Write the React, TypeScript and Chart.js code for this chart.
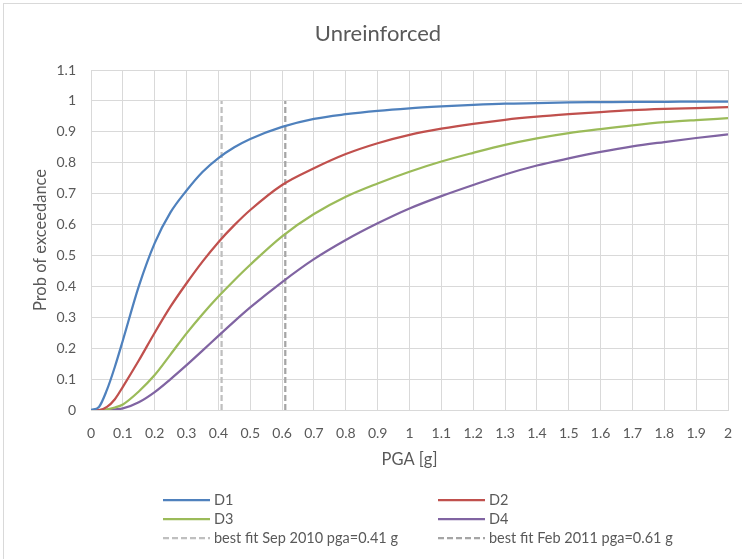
import React, { useEffect, useRef } from "react";
import { Chart, registerables } from "chart.js";

Chart.register(...registerables);

const pga = [0, 0.025, 0.05, 0.075, 0.1, 0.15, 0.2, 0.25, 0.3, 0.35, 0.4, 0.45, 0.5, 0.6, 0.7, 0.8, 0.9, 1.0, 1.1, 1.2, 1.3, 1.4, 1.5, 1.6, 1.7, 1.8, 1.9, 2.0];
const d1 = [0, 0.01, 0.065, 0.14, 0.225, 0.4, 0.54, 0.64, 0.71, 0.77, 0.815, 0.85, 0.877, 0.916, 0.942, 0.957, 0.968, 0.976, 0.982, 0.987, 0.991, 0.993, 0.995, 0.996, 0.997, 0.997, 0.998, 0.998];
const d2 = [0, 0, 0.01, 0.035, 0.075, 0.16, 0.25, 0.335, 0.41, 0.48, 0.543, 0.598, 0.647, 0.728, 0.782, 0.828, 0.863, 0.89, 0.91, 0.926, 0.939, 0.949, 0.957, 0.964, 0.97, 0.974, 0.977, 0.98];
const d3 = [0, 0, 0.002, 0.008, 0.018, 0.06, 0.113, 0.18, 0.248, 0.31, 0.367, 0.42, 0.47, 0.562, 0.634, 0.69, 0.733, 0.771, 0.804, 0.832, 0.858, 0.879, 0.896, 0.909, 0.921, 0.931, 0.938, 0.944];
const d4 = [0, 0, 0, 0.002, 0.005, 0.025, 0.058, 0.1, 0.145, 0.192, 0.24, 0.287, 0.332, 0.414, 0.488, 0.55, 0.604, 0.652, 0.692, 0.728, 0.762, 0.791, 0.814, 0.835, 0.853, 0.867, 0.88, 0.892];

const sepPga = 0.41;
const febPga = 0.61;
const fitRange = [0, 1];

const seriesNames = ["D1", "D2", "D3", "D4"];
const seriesColors = ["#4F81BD", "#C0504D", "#9BBB59", "#8064A2"];
const fitNames = ["best fit Sep 2010 pga=0.41 g", "best fit Feb 2011 pga=0.61 g"];
const fitColors = ["#BFBFBF", "#A5A5A5"];

const FONT = "Lato, 'Open Sans', sans-serif";
const TEXT = "#595959";

export default function App() {
  const ref = useRef<HTMLCanvasElement>(null);

  useEffect(() => {
    document.body.style.margin = "0";
    const canvas = ref.current!;
    const seriesData = [d1, d2, d3, d4];
    const datasets: any[] = seriesData.map((arr, i) => ({
      label: seriesNames[i],
      data: pga.map((x, j) => ({ x, y: arr[j] })),
      borderColor: seriesColors[i],
      backgroundColor: seriesColors[i],
      borderWidth: 2.25,
      pointRadius: 0,
      cubicInterpolationMode: "monotone",
      fill: false,
    }));
    [sepPga, febPga].forEach((v, i) => {
      datasets.push({
        label: fitNames[i],
        data: fitRange.map((y) => ({ x: v, y })),
        borderColor: fitColors[i],
        backgroundColor: fitColors[i],
        borderWidth: 2.25,
        borderDash: [6, 3],
        pointRadius: 0,
        fill: false,
      });
    });

    const legendPlugin = {
      id: "customLegend",
      afterDraw(chart: any) {
        const ctx = chart.ctx;
        ctx.save();
        ctx.strokeStyle = "#D9D9D9";
        ctx.lineWidth = 1;
        ctx.strokeRect(3.5, 3.5, 742, 560);
        ctx.fillStyle = TEXT;
        ctx.font = `22px ${FONT}`;
        ctx.textAlign = "center";
        ctx.textBaseline = "middle";
        ctx.fillText("Unreinforced", 378, 34);
        const cols = [163, 438];
        const rows = [500, 519, 538];
        const items = [
          { t: seriesNames[0], c: seriesColors[0], d: false },
          { t: seriesNames[1], c: seriesColors[1], d: false },
          { t: seriesNames[2], c: seriesColors[2], d: false },
          { t: seriesNames[3], c: seriesColors[3], d: false },
          { t: fitNames[0], c: fitColors[0], d: true },
          { t: fitNames[1], c: fitColors[1], d: true },
        ];
        ctx.font = `14.5px ${FONT}`;
        ctx.textAlign = "left";
        items.forEach((it, k) => {
          const x = cols[k % 2];
          const y = rows[Math.floor(k / 2)];
          ctx.strokeStyle = it.c;
          ctx.lineWidth = 2.25;
          ctx.setLineDash(it.d ? [6, 3] : []);
          ctx.beginPath();
          ctx.moveTo(x, y);
          ctx.lineTo(x + 47, y);
          ctx.stroke();
          ctx.fillStyle = TEXT;
          ctx.fillText(it.t, x + 51, y);
        });
        ctx.restore();
      },
    };

    const chart = new Chart(canvas, {
      type: "line",
      data: { datasets },
      options: {
        animation: false,
        responsive: false,
        maintainAspectRatio: false,
        layout: { padding: { left: 0, top: 70, right: 14, bottom: 0 } },
        plugins: {
          legend: { display: false },
          title: { display: false },
          tooltip: { enabled: false },
        },
        scales: {
          x: {
            type: "linear",
            min: 0,
            max: 2,
            afterFit: (s: any) => {
              s.height = 149;
              s.paddingLeft = 0;
              s.paddingRight = 0;
            },
            ticks: {
              stepSize: 0.1,
              color: TEXT,
              font: { family: FONT, size: 14 },
              padding: 15,
              maxRotation: 0,
              autoSkip: false,
              callback: (v: any) => String(Math.round(Number(v) * 10) / 10),
            },
            grid: { color: "#D9D9D9", lineWidth: 1, drawTicks: false },
            border: { color: "#D9D9D9" },
            title: {
              display: true,
              text: "PGA [g]",
              color: TEXT,
              font: { family: FONT, size: 16.5 },
              padding: { top: 0, bottom: 89 },
            },
          },
          y: {
            type: "linear",
            min: 0,
            max: 1.1,
            afterFit: (s: any) => {
              s.width = 91;
              s.paddingTop = 0;
              s.paddingBottom = 0;
            },
            ticks: {
              stepSize: 0.1,
              color: TEXT,
              font: { family: FONT, size: 14 },
              padding: 15,
              callback: (v: any) => String(Math.round(Number(v) * 10) / 10),
            },
            grid: { color: "#D9D9D9", lineWidth: 1, drawTicks: false },
            border: { color: "#D9D9D9" },
            title: {
              display: true,
              text: "Prob of exceedance",
              color: TEXT,
              font: { family: FONT, size: 16.5 },
              padding: { top: 31, bottom: 0 },
            },
          },
        },
      },
      plugins: [legendPlugin],
    });
    return () => chart.destroy();
  }, []);

  return (
    <div style={{ width: 742, height: 559 }}>
      <canvas ref={ref} width={742} height={559} style={{ display: "block" }} />
    </div>
  );
}
